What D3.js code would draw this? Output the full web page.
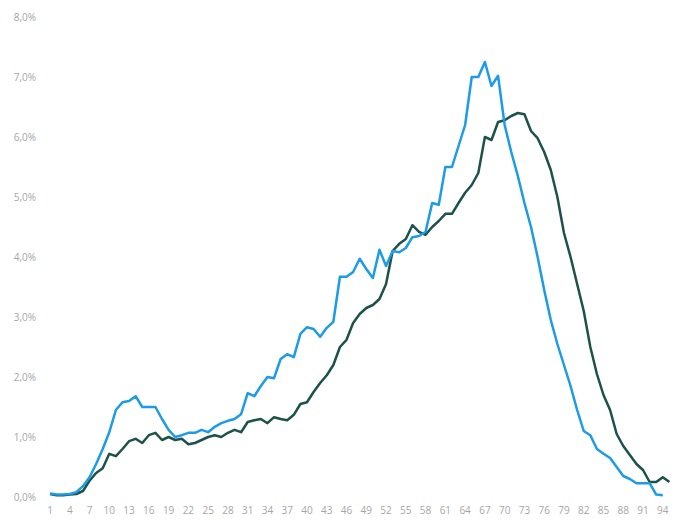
<!DOCTYPE html>
<html>
<head>
<meta charset="utf-8">
<script src="https://cdn.jsdelivr.net/npm/d3@7"></script>
<style>
  body { margin: 0; background: #fff; }
  svg { display: block; font-family: "Open Sans", sans-serif; }
  .tick-label { fill: #a6a6a6; font-size: 10px; }
</style>
</head>
<body>
<svg id="chart" width="687" height="524"></svg>
<script>
// values in percent, x = 1..95
var blueValues = [
  0.06, 0.04, 0.04, 0.05, 0.08, 0.18, 0.33, 0.55, 0.8, 1.08,
  1.45, 1.58, 1.6, 1.68, 1.5, 1.5, 1.5, 1.3, 1.12, 1.0,
  1.03, 1.07, 1.07, 1.12, 1.08, 1.17, 1.23, 1.27, 1.3, 1.38,
  1.73, 1.68, 1.85, 2.0, 1.98, 2.3, 2.38, 2.33, 2.72, 2.83,
  2.8, 2.67, 2.82, 2.92, 3.67, 3.67, 3.75, 3.97, 3.8, 3.65,
  4.12, 3.85, 4.1, 4.08, 4.15, 4.33, 4.35, 4.42, 4.9, 4.87,
  5.5, 5.5, 5.85, 6.2, 7.0, 7.0, 7.25, 6.85, 7.02, 6.2,
  5.75, 5.35, 4.9, 4.5, 4.0, 3.45, 2.95, 2.55, 2.2, 1.85,
  1.45, 1.1, 1.03, 0.8, 0.72, 0.65, 0.5, 0.35, 0.3, 0.23,
  0.23, 0.23, 0.04, 0.03
];
var tealValues = [
  0.05, 0.03, 0.03, 0.04, 0.05, 0.1, 0.27, 0.4, 0.48, 0.72,
  0.68, 0.8, 0.93, 0.97, 0.9, 1.03, 1.07, 0.95, 1.0, 0.95,
  0.97, 0.88, 0.9, 0.95, 1.0, 1.03, 1.0, 1.07, 1.12, 1.08,
  1.25, 1.28, 1.3, 1.23, 1.33, 1.3, 1.28, 1.37, 1.55, 1.58,
  1.75, 1.9, 2.03, 2.2, 2.5, 2.62, 2.9, 3.05, 3.15, 3.2,
  3.3, 3.55, 4.1, 4.22, 4.3, 4.53, 4.42, 4.37, 4.5, 4.6,
  4.72, 4.72, 4.9, 5.07, 5.2, 5.4, 6.0, 5.95, 6.25, 6.28,
  6.35, 6.4, 6.38, 6.1, 5.98, 5.75, 5.45, 5.0, 4.4, 4.0,
  3.55, 3.1, 2.5, 2.05, 1.7, 1.45, 1.05, 0.85, 0.7, 0.55,
  0.45, 0.25, 0.25, 0.33, 0.25
];
var xCategories = d3.range(1, 96);
var xTickLabels = d3.range(1, 95, 3);
var yTickValues = [0, 1, 2, 3, 4, 5, 6, 7, 8];

var svg = d3.select("#chart");

var x = d3.scalePoint().domain(xCategories).range([50, 669.4]);
var y = d3.scaleLinear().domain([0, 8]).range([497, 17]);

// y labels
svg.append("g")
  .selectAll("text")
  .data(yTickValues)
  .enter()
  .append("text")
  .attr("class", "tick-label")
  .attr("x", 36)
  .attr("y", function (d) { return y(d); })
  .attr("dy", "0.35em")
  .attr("text-anchor", "end")
  .text(function (d) { return d.toFixed(1).replace(".", ",") + "%"; });

// x labels
svg.append("g")
  .selectAll("text")
  .data(xTickLabels)
  .enter()
  .append("text")
  .attr("class", "tick-label")
  .attr("x", function (d) { return x(d); })
  .attr("y", 514)
  .attr("text-anchor", "middle")
  .text(function (d) { return d; });

var line = d3.line()
  .x(function (d, i) { return x(i + 1); })
  .y(function (d) { return y(d); });

svg.append("path")
  .datum(tealValues)
  .attr("fill", "none")
  .attr("stroke", "#1d5249")
  .attr("stroke-width", 2.5)
  .attr("stroke-linejoin", "round")
  .attr("d", line);

svg.append("path")
  .datum(blueValues)
  .attr("fill", "none")
  .attr("stroke", "#1c9be6")
  .attr("stroke-width", 2.5)
  .attr("stroke-linejoin", "round")
  .attr("d", line);
</script>
</body>
</html>
